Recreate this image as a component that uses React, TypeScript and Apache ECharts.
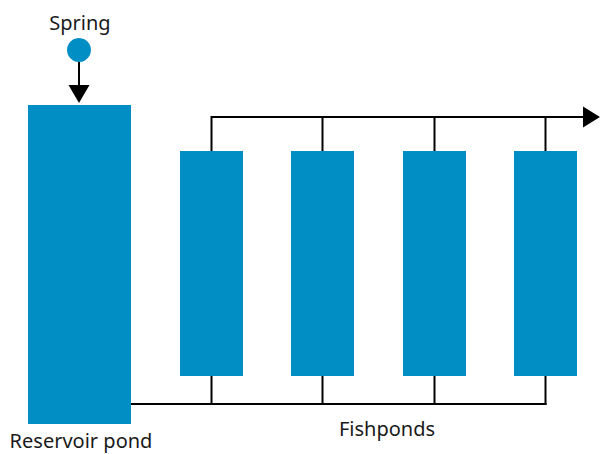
import React, { useEffect, useRef } from "react";
import * as echarts from "echarts";

// Diagram layout in picture units (x to the right, y downwards)
const BLUE = "#008ec4";
const reservoir = [28, 105, 131, 424]; // x0, y0, x1, y1
const pondLeft = [180, 291, 403, 514];
const pondWidth = 63;
const pondTop = 151;
const pondBottom = 376;
const topPipeY = 117;
const bottomPipeY = 404;
const outletEndX = 600;
const spring = [79, 50, 12]; // cx, cy, r
const springArrow = [79, 62, 103]; // x, y start, y tip
const labels = [
  { text: "Spring", x: 80, y: 22 },
  { text: "Reservoir pond", x: 81, y: 440 },
  { text: "Fishponds", x: 387, y: 428 },
];

export default function App() {
  const ref = useRef<HTMLDivElement>(null);
  useEffect(() => {
    if (!ref.current) return;
    const chart = echarts.init(ref.current, null, { renderer: "svg" });
    const connectorX = pondLeft.map((x) => x + pondWidth / 2);
    const rects = [
      reservoir,
      ...pondLeft.map((x) => [x, pondTop, x + pondWidth, pondBottom]),
    ];
    const lineStyle = { stroke: "#000", lineWidth: 2, fill: null };
    chart.setOption({
      animation: false,
      grid: { left: 0, right: 0, top: 0, bottom: 0 },
      xAxis: { type: "value", min: 0, max: 600, show: false },
      yAxis: { type: "value", min: 0, max: 454, inverse: true, show: false },
      series: [
        {
          type: "custom",
          data: rects,
          renderItem: (params: any, api: any) => {
            const p0 = api.coord([api.value(0), api.value(1)]);
            const p1 = api.coord([api.value(2), api.value(3)]);
            return {
              type: "rect",
              shape: { x: p0[0], y: p0[1], width: p1[0] - p0[0], height: p1[1] - p0[1] },
              style: { fill: BLUE },
            };
          },
        },
        {
          type: "custom",
          data: [[0]],
          renderItem: (params: any, api: any) => {
            const c = (x: number, y: number) => api.coord([x, y]);
            const children: any[] = [];
            // top pipe
            children.push({
              type: "polyline",
              shape: { points: [c(connectorX[0], topPipeY), c(outletEndX - 16, topPipeY)] },
              style: lineStyle,
            });
            children.push({
              type: "polygon",
              shape: {
                points: [
                  c(outletEndX - 17, topPipeY - 10.5),
                  c(outletEndX, topPipeY),
                  c(outletEndX - 17, topPipeY + 10.5),
                ],
              },
              style: { fill: "#000" },
            });
            connectorX.forEach((x) => {
              children.push({
                type: "polyline",
                shape: { points: [c(x, topPipeY - 1), c(x, pondTop)] },
                style: lineStyle,
              });
              children.push({
                type: "polyline",
                shape: { points: [c(x, pondBottom), c(x, bottomPipeY + 1)] },
                style: lineStyle,
              });
            });
            // bottom pipe
            children.push({
              type: "polyline",
              shape: {
                points: [c(reservoir[2], bottomPipeY), c(connectorX[connectorX.length - 1] + 1, bottomPipeY)],
              },
              style: lineStyle,
            });
            // spring
            const sc = c(spring[0], spring[1]);
            children.push({
              type: "circle",
              shape: { cx: sc[0], cy: sc[1], r: spring[2] },
              style: { fill: BLUE },
            });
            children.push({
              type: "polyline",
              shape: { points: [c(springArrow[0], springArrow[1]), c(springArrow[0], springArrow[2] - 16)] },
              style: lineStyle,
            });
            children.push({
              type: "polygon",
              shape: {
                points: [
                  c(springArrow[0] - 10.5, springArrow[2] - 18),
                  c(springArrow[0] + 10.5, springArrow[2] - 18),
                  c(springArrow[0], springArrow[2]),
                ],
              },
              style: { fill: "#000" },
            });
            labels.forEach((l) => {
              const p = c(l.x, l.y);
              children.push({
                type: "text",
                x: p[0],
                y: p[1],
                style: {
                  text: l.text,
                  fill: "#1a1a1a",
                  fontSize: 20,
                  fontFamily: "Noto Sans",
                  align: "center",
                  verticalAlign: "middle",
                },
              });
            });
            return { type: "group", children };
          },
        },
      ],
    });
    return () => chart.dispose();
  }, []);
  return (
    <div
      ref={ref}
      style={{ position: "fixed", left: 0, top: 0, width: 600, height: 454, background: "#fff" }}
    />
  );
}
